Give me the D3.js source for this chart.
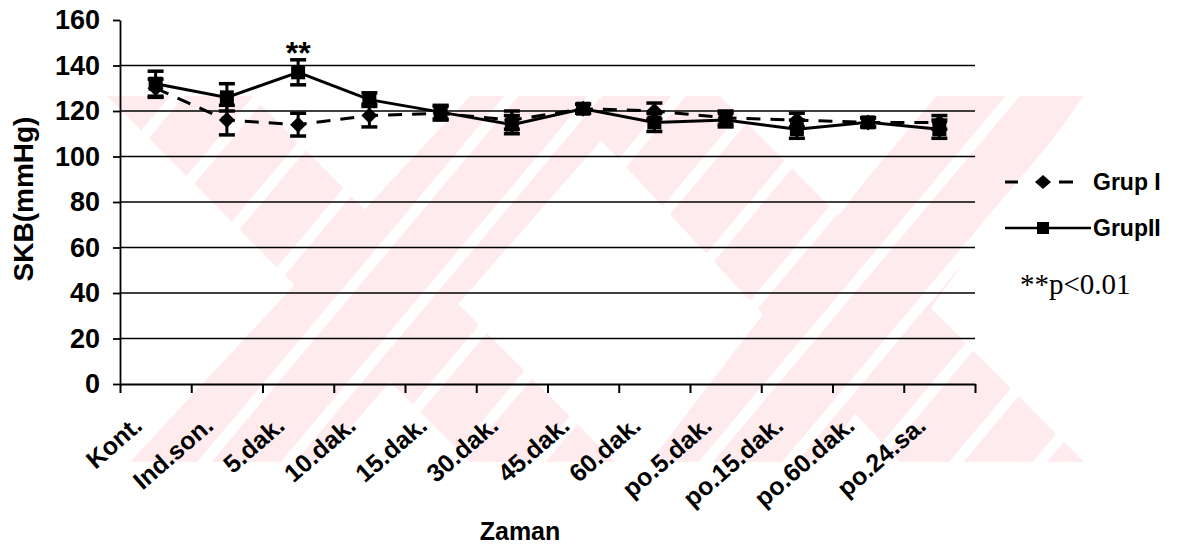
<!DOCTYPE html>
<html>
<head>
<meta charset="utf-8">
<script src="https://cdn.jsdelivr.net/npm/d3@7"></script>
<style>
  body { margin: 0; background: #fff; }
  svg { display: block; }
  text { font-family: "Liberation Sans", Arial, sans-serif; }
</style>
</head>
<body>
<svg id="chart"></svg>
<script>
//Chart data
let categories = ['Kont.', 'Ind.son.', '5.dak.', '10.dak.', '15.dak.', '30.dak.', '45.dak.', '60.dak.', 'po.5.dak.', 'po.15.dak.', 'po.60.dak.', 'po.24.sa.'];
let grup1 = [130, 116, 114, 118, 119, 116, 121, 120, 117, 116, 115, 115];
let grup1Err = [4, 6.5, 5, 5, 3, 4, 2, 3.5, 3, 3, 2, 3];
let grup2 = [132, 126, 137, 125, 119.5, 114, 121, 115, 116, 112, 115, 112];
let grup2Err = [5.5, 6, 5.5, 3, 3, 4, 2, 4, 3, 4, 2, 4];
let yTicks = [0, 20, 40, 60, 80, 100, 120, 140, 160];
let seriesNames = ['Grup I', 'GrupII'];
let starCategory = '5.dak.';

//Canvas Dimension
let canvas = { width: 1186, height: 551 };
let plot = { left: 120, right: 975, top: 20, bottom: 384 };

let svg = d3.select('#chart')
  .attr('width', canvas.width)
  .attr('height', canvas.height);

//Watermark (decoration behind the chart)
function drawWatermark() {
  let defs = svg.append('defs');
  let pat = defs.append('pattern')
    .attr('id', 'hatch')
    .attr('patternUnits', 'userSpaceOnUse')
    .attr('width', 64).attr('height', 64)
    .attr('patternTransform', 'rotate(40)');
  pat.append('rect').attr('width', 64).attr('height', 64).attr('fill', '#fdebee');
  pat.append('rect').attr('x', 0).attr('width', 11).attr('height', 64).attr('fill', '#fff');

  let top = 96, bot = 462;
  // each band: x range at top, x range at bottom
  let bands = [
    [[107, 252], [470, 615]],
    [[470, 640], [130, 320]],
    [[560, 720], [900, 1084]],
    [[930, 1084], [650, 820]]
  ];
  bands.forEach(b => {
    let pts = [[b[0][0], top], [b[0][1], top], [b[1][1], bot], [b[1][0], bot]];
    svg.append('path')
      .attr('d', 'M' + pts.join('L') + 'Z')
      .attr('fill', 'url(#hatch)');
  });
}

//Scales
let xBand = d3.scaleBand().domain(categories).range([plot.left, plot.right]);
let xEdge = d3.scaleLinear().domain([0, categories.length]).range([plot.left, plot.right]);
let yScale = d3.scaleLinear().domain([0, 160]).range([plot.bottom, plot.top]);
let cx = (d, i) => xBand(categories[i]) + xBand.bandwidth() / 2;

function drawAxes() {
  //Gridlines
  svg.append('g')
    .selectAll('line')
    .data(yTicks.filter(t => t > 0 && t < 160))
    .enter()
    .append('line')
    .attr('x1', plot.left).attr('x2', plot.right)
    .attr('y1', d => yScale(d)).attr('y2', d => yScale(d))
    .attr('stroke', '#000').attr('stroke-width', 1.6);

  //yAxis
  let yAxis = d3.axisLeft(yScale).tickValues(yTicks).tickSize(7).tickSizeOuter(0).tickPadding(13);
  let gy = svg.append('g')
    .attr('transform', 'translate(' + plot.left + ',0)')
    .call(yAxis);
  gy.selectAll('text').style('font-size', '27px').style('font-weight', 'bold').attr('fill', '#000');
  gy.selectAll('line, path').attr('stroke', '#000').attr('stroke-width', 1.8);

  //xAxis (ticks on category edges)
  let xAxis = d3.axisBottom(xEdge).tickValues(d3.range(categories.length + 1)).tickFormat('').tickSize(9).tickSizeOuter(0);
  let gx = svg.append('g')
    .attr('transform', 'translate(0,' + plot.bottom + ')')
    .call(xAxis);
  gx.selectAll('line, path').attr('stroke', '#000').attr('stroke-width', 2);

  //category labels
  svg.append('g')
    .selectAll('text')
    .data(categories)
    .enter()
    .append('text')
    .attr('text-anchor', 'end')
    .attr('transform', d => 'translate(' + (xBand(d) + xBand.bandwidth() / 2 - 12) + ',' + (plot.bottom + 44) + ') rotate(-41)')
    .style('font-size', '25px')
    .style('font-weight', 'bold')
    .text(d => d);

  //axis titles
  svg.append('text')
    .attr('transform', 'translate(33,199) rotate(-90)')
    .attr('text-anchor', 'middle')
    .style('font-size', '28px').style('font-weight', 'bold')
    .text('SKB(mmHg)');

  svg.append('text')
    .attr('x', 520).attr('y', 540)
    .attr('text-anchor', 'middle')
    .style('font-size', '25px').style('font-weight', 'bold')
    .text('Zaman');
}

function drawSeries(values, errs, dashed, marker) {
  let g = svg.append('g');
  let line = d3.line().x(cx).y(d => yScale(d));

  g.append('path')
    .datum(values)
    .attr('d', line)
    .attr('fill', 'none')
    .attr('stroke', '#000')
    .attr('stroke-width', 3)
    .attr('stroke-dasharray', dashed ? '14,10' : null);

  //error bars
  let eb = g.selectAll('.eb').data(values).enter().append('g');
  eb.append('line')
    .attr('x1', cx).attr('x2', cx)
    .attr('y1', (d, i) => yScale(d + errs[i]))
    .attr('y2', (d, i) => yScale(d - errs[i]))
    .attr('stroke', '#000').attr('stroke-width', 3);
  [1, -1].forEach(s => {
    eb.append('line')
      .attr('x1', (d, i) => cx(d, i) - 8).attr('x2', (d, i) => cx(d, i) + 8)
      .attr('y1', (d, i) => yScale(d + s * errs[i]))
      .attr('y2', (d, i) => yScale(d + s * errs[i]))
      .attr('stroke', '#000').attr('stroke-width', 3.5);
  });

  //markers
  g.selectAll('.mk').data(values).enter()
    .append('path')
    .attr('transform', (d, i) => 'translate(' + cx(d, i) + ',' + yScale(d) + ')')
    .attr('d', marker === 'diamond' ? 'M0,-8L8,0L0,8L-8,0Z' : 'M-7,-7H7V7H-7Z')
    .attr('fill', '#000');
}

function drawLegend() {
  let lg = svg.append('g');
  //Grup I
  [[1005, 1018], [1059, 1073]].forEach(s => {
    lg.append('line').attr('x1', s[0]).attr('x2', s[1]).attr('y1', 182).attr('y2', 182)
      .attr('stroke', '#000').attr('stroke-width', 3);
  });
  lg.append('path').attr('transform', 'translate(1043,182)').attr('d', 'M0,-7L8,0L0,7L-8,0Z').attr('fill', '#000');
  lg.append('text').attr('x', 1093).attr('y', 190).style('font-size', '23px').style('font-weight', 'bold').text(seriesNames[0]);
  //GrupII
  lg.append('line').attr('x1', 1005).attr('x2', 1091).attr('y1', 228).attr('y2', 228)
    .attr('stroke', '#000').attr('stroke-width', 2.5);
  lg.append('path').attr('transform', 'translate(1043,228)').attr('d', 'M-6,-6H6V6H-6Z').attr('fill', '#000');
  lg.append('text').attr('x', 1093).attr('y', 236).style('font-size', '23px').style('font-weight', 'bold').text(seriesNames[1]);

  lg.append('text').attr('x', 1020).attr('y', 294)
    .style('font-family', '"Liberation Serif", "Times New Roman", serif')
    .style('font-size', '29px')
    .text('**p<0.01');
}

function drawStars() {
  svg.append('text')
    .attr('x', xBand(starCategory) + xBand.bandwidth() / 2)
    .attr('y', 64)
    .attr('text-anchor', 'middle')
    .style('font-size', '32px').style('font-weight', 'bold')
    .text('**');
}

drawWatermark();
drawAxes();
drawSeries(grup1, grup1Err, true, 'diamond');
drawSeries(grup2, grup2Err, false, 'square');
drawLegend();
drawStars();
</script>
</body>
</html>
